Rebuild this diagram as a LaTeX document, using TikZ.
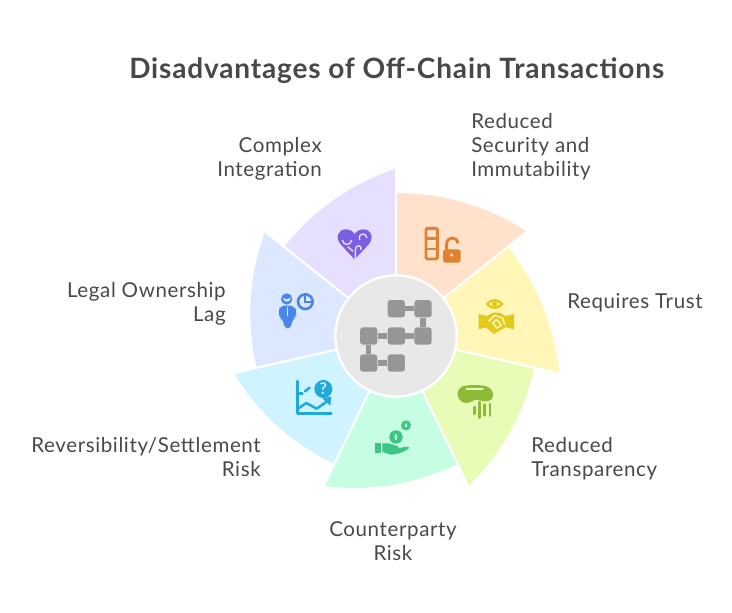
\documentclass[tikz,border=0pt]{standalone}
\usepackage{fontspec}
\setmainfont{Lato}
\newfontfamily\lblfont[LetterSpace=3]{Lato}
\newfontfamily\ttlfont[LetterSpace=3,BoldFont={Lato Bold}]{Lato}
\definecolor{ink}{HTML}{484848}
\definecolor{cpeach}{HTML}{FFE1CC}\definecolor{cyel}{HTML}{FFF6B8}\definecolor{cgrn}{HTML}{E8FCB8}
\definecolor{cmint}{HTML}{C6FEE3}\definecolor{ccyan}{HTML}{CFF3FF}\definecolor{cblue}{HTML}{DCE8FF}
\definecolor{clav}{HTML}{E6DFFF}\definecolor{chub}{HTML}{E8E8E8}\definecolor{cgray}{HTML}{969696}
\definecolor{ipeach}{HTML}{E0832F}\definecolor{iyel}{HTML}{E2C91A}\definecolor{igrn}{HTML}{8DBB37}
\definecolor{imint}{HTML}{3CC583}\definecolor{icyan}{HTML}{1FA9DC}\definecolor{iblue}{HTML}{4A86E8}
\definecolor{ilav}{HTML}{7B5FE0}
\tikzset{
  lbl/.style={inner sep=0pt,text=ink,font=\lblfont\fontsize{15.4}{18}\selectfont},
  ttl/.style={inner sep=0pt,text=ink,font=\ttlfont\bfseries\fontsize{21}{24}\selectfont},
  hubbox/.style={fill=cgray,rounded corners=2.2pt,minimum size=13pt,inner sep=0pt},
  hublink/.style={draw=cgray,line width=4pt},
  gap/.style={draw=white,line width=1.6pt},
  icon/.style={shift={#1},x=.25pt,y=-.25pt},
}
% colour, start angle, start radius: chord from start to end point plus an outward bulge
\newcommand{\blade}[3]{\fill[#1] (396,336) -- plot[domain=0:1,samples=40,smooth] ({396+(1-\x)*#3*cos(#2)+\x*(#3+24.5)*cos(#2-51.43)+40*\x*(1-\x)*cos(#2-17.1)},{336-(1-\x)*#3*sin(#2)-\x*(#3+24.5)*sin(#2-51.43)-40*\x*(1-\x)*sin(#2-17.1)}) -- cycle;}
\begin{document}
\begin{tikzpicture}[x=.75pt,y=-.75pt]
\useasboundingbox (0,0) rectangle (732,612);
\blade{cpeach}{90}{143}
\blade{cyel}{38.57}{143}
\blade{cgrn}{-12.86}{142}
\blade{cmint}{-64.29}{142}
\blade{ccyan}{-115.71}{142}
\blade{cblue}{-167.14}{143}
\blade{clav}{141.43}{143}
\foreach \a in {90,38.57,-12.86,-64.29,-115.71,-167.14,141.43}
  \draw[gap] (396,336) -- ({396+175*cos(\a)},{336-175*sin(\a)});
\node[circle,fill=chub,draw=white,line width=1.8pt,minimum size=91pt,inner sep=0pt] (hub) at (396,336) {};
% hub icon
\node[hubbox] (h1) at (396.3,308.7) {};
\node[hubbox] (h2) at (423,308.7) {};
\node[hubbox] (h3) at (368.7,336) {};
\node[hubbox] (h4) at (396.3,336) {};
\node[hubbox] (h5) at (423,336) {};
\node[hubbox] (h6) at (368.7,363) {};
\node[hubbox] (h7) at (396.3,363) {};
\draw[hublink] (h1)--(h2) (h2)--(h5) (h3)--(h4) (h4)--(h5) (h3)--(h6) (h6)--(h7);
% heart
\begin{scope}[icon={(325,220)}]
\fill[ilav] (89,118) -- (46,72) .. controls (30,52) and (40,28) .. (62,28) .. controls (75,28) and (85,35) .. (89,42) .. controls (95,33) and (105,28) .. (116,28) .. controls (138,28) and (148,52) .. (132,72) -- cycle;
\draw[clav,line width=1pt] (52,60) .. controls (54,78) and (78,78) .. (80,60);
\draw[clav,line width=1pt] (104,60) .. controls (98,38) and (124,36) .. (126,54);
\draw[clav,line width=1pt] (91,118) -- (91,90) .. controls (90,74) and (112,72) .. (108,90);
\draw[clav,line width=1pt] (68,80) -- (84,94);
\end{scope}
% peach
\begin{scope}[icon={(415,220)}]
\draw[ipeach,line width=2.2pt,rounded corners=1pt] (33,25) rectangle (67,117);
\draw[ipeach,line width=2.2pt] (33,55) -- (67,55) (33,87) -- (67,87);
\draw[ipeach,line width=2.2pt] (95,90) -- (95,72) .. controls (95,48) and (128,48) .. (128,70);
\fill[ipeach,rounded corners=2pt] (84,88) rectangle (137,128);
\fill[cpeach] (110,105) circle (5);
\end{scope}
% yellow
\begin{scope}[icon={(470,290)}]
\draw[iyel,line width=1.8pt] (52,42) .. controls (62,27) and (85,27) .. (96,42) .. controls (85,57) and (62,57) .. (52,42) -- cycle;
\fill[iyel] (74,42) circle (8);
\fill[iyel] (26,72) -- (48,78) -- (48,112) -- (26,118) -- cycle;
\fill[iyel] (132,72) -- (108,78) -- (108,112) -- (132,118) -- cycle;
\fill[iyel] (46,80) -- (70,68) -- (90,68) -- (110,80) -- (110,110) -- (72,132) -- (46,110) -- cycle;
\draw[cyel,line width=1.1pt,line join=round] (56,94) -- (74,76) -- (98,84) -- (104,104);
\draw[cyel,line width=1.1pt,line join=round] (80,88) -- (68,99) -- (80,114) -- (94,106) -- (80,88);
\end{scope}
% green
\begin{scope}[icon={(450,378)}]
\fill[igrn] (40,24) .. controls (60,20) and (95,20) .. (110,25) .. controls (128,30) and (134,52) .. (125,64) .. controls (112,75) and (95,68) .. (80,65) .. controls (68,66) and (58,78) .. (42,74) .. controls (22,68) and (12,35) .. (40,24) -- cycle;
\draw[cgrn,line width=1.6pt,line cap=round] (50,33) -- (98,33);
\draw[igrn,line width=2pt,line cap=round] (73,87) -- (73,108) (88,72) -- (88,119) (104,80) -- (104,112) (120,78) -- (120,113);
\end{scope}
% mint
\begin{scope}[icon={(365,412)}]
\fill[imint] (93,75) circle (20);
\fill[imint] (123,40) circle (15);
\fill[cmint,rounded corners=1pt] (89,65) rectangle (96,85);
\fill[cmint,rounded corners=1pt] (120,33) rectangle (126,47);
\fill[imint] (30,92) rectangle (48,122);
\fill[imint] (52,94) -- (70,94) .. controls (80,96) and (90,100) .. (100,103) .. controls (106,108) and (100,112) .. (92,110) .. controls (100,110) and (115,104) .. (130,104) .. controls (135,106) and (132,110) .. (125,114) .. controls (110,122) and (95,128) .. (78,128) -- (52,120) -- cycle;
\end{scope}
% cyan
\begin{scope}[icon={(285,373)}]
\draw[icyan,line width=1.9pt,line cap=round,line join=round] (38,24) -- (38,122) -- (139,122);
\draw[icyan,line width=1.9pt,line cap=round] (38,62) -- (52,62);
\draw[icyan,line width=1.9pt,line cap=round] (60,55) -- (74,44);
\fill[icyan] (115,48) circle (27);
\node[inner sep=0pt,text=ccyan,font=\bfseries\fontsize{12}{12}\selectfont] (qm) at (115,48) {?};
\draw[icyan,line width=1.9pt,line join=round] (42,105) -- (64,90) -- (95,107) -- (128,84);
\fill[icyan] (112,76) -- (139,71) -- (136,98) -- cycle;
\end{scope}
% blue
\begin{scope}[icon={(270,285)}]
\fill[iblue] (50,42) circle (17);
\fill[cblue] (38,38) .. controls (46,44) and (56,44) .. (63,38) .. controls (60,54) and (42,54) .. (38,38) -- cycle;
\draw[iblue,line width=2pt] (106,50) circle (22);
\draw[iblue,line width=1.6pt] (106,34) -- (106,52) -- (122,52);
\fill[iblue,rounded corners=3pt] (27,100) -- (27,82) .. controls (28,70) and (40,62) .. (52,62) .. controls (66,62) and (78,72) .. (78,85) -- (78,100) -- (66,102) -- (64,130) -- (42,130) -- (40,102) -- cycle;
\fill[cblue] (50,66) rectangle (54,94);
\end{scope}
% labels
\node[ttl,anchor=base west] (title) at (129,78) {Disadvantages of Off-Chain Transactions};
\node[lbl,anchor=west,align=left] (t1) at (471,147) {Reduced\\Security and\\Immutability};
\node[lbl,anchor=west,align=left] (t2) at (567,303) {Requires Trust};
\node[lbl,anchor=west,align=left] (t3) at (531,459) {Reduced\\Transparency};
\node[lbl,anchor=center,align=center] (t4) at (393,541.5) {Counterparty\\Risk};
\node[lbl,anchor=east,align=right] (t5) at (261,457.5) {Reversibility/Settlement\\Risk};
\node[lbl,anchor=east,align=right] (t6) at (226,304) {Legal Ownership\\Lag};
\node[lbl,anchor=east,align=right] (t7) at (322,159) {Complex\\Integration};
\end{tikzpicture}
\end{document}
